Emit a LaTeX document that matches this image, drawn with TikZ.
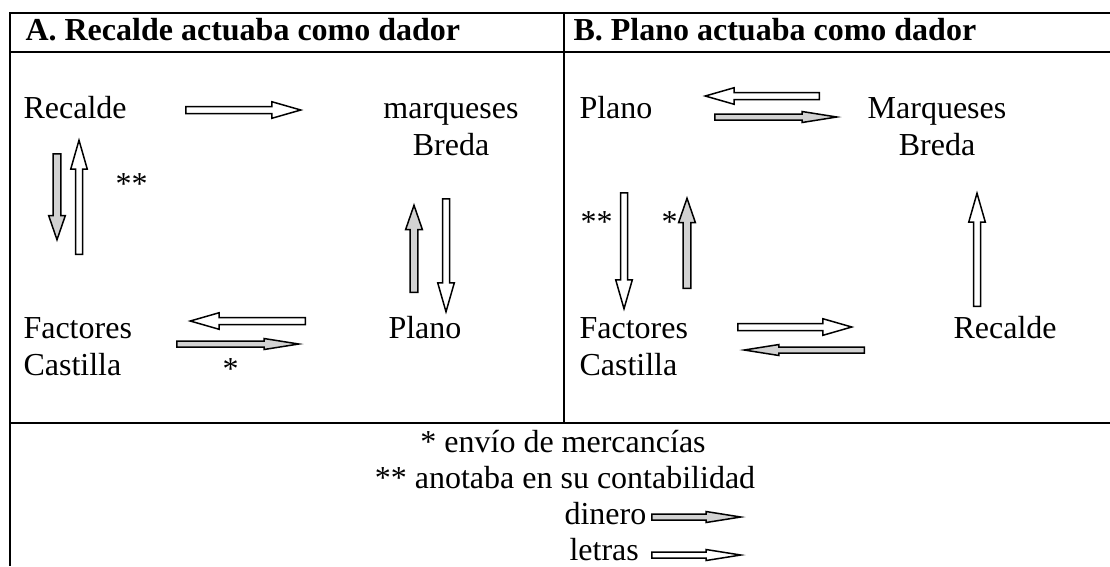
\documentclass[tikz,border=0pt]{standalone}
\usepackage{fontspec}
\setmainfont{Liberation Serif}
\usetikzlibrary{shapes.arrows}
\newlength{\px}\setlength{\px}{0.375pt}

\begin{document}
\begin{tikzpicture}[x=\px, y=-\px,
  every node/.style={font=\fontsize{12}{13.8}\selectfont, inner sep=0pt},
  txt/.style={anchor=base west},
  two/.style={anchor=base, align=center},
  tabla/.style={line width=2*\px},
  flecha/.style={single arrow, draw, anchor=tail, line width=1.5*\px, inner xsep=0pt, inner ysep=2.75*\px,
    single arrow head extend=4.75*\px, single arrow tip angle=32, minimum height=#1*\px},
  fina/.style={inner ysep=2.25*\px, single arrow head extend=2.5*\px, single arrow tip angle=18},
  corta/.style={inner ysep=3.1*\px, single arrow head extend=4.5*\px, single arrow tip angle=38},
  letra/.style={flecha=#1, fill=white},
  dinero/.style={flecha=#1, fill=gray!35}]
  \useasboundingbox (0,0) rectangle (1110,566);

  % cuadro
  \draw[tabla] (1110,13) -- (10,13) -- (10,566);
  \draw[tabla] (10,52) -- (1110,52);
  \draw[tabla] (564,13) -- (564,423);
  \draw[tabla] (10,423) -- (1110,423);

  % A
  \node[txt, font=\fontsize{12}{13.8}\selectfont\bfseries] (tA) at (25,40) {A. Recalde actuaba como dador};
  \node[txt] (recA) at (23,118) {Recalde};
  \node[two] (marqA) at (451,155) {marqueses\\Breda};
  \node[txt, align=left] (facA) at (23,375) {Factores\\Castilla};
  \node[txt] (plaA) at (388,338) {Plano};
  \node[txt] (astA) at (115,194) {**};
  \node[txt] (asA) at (222,379) {*};

  \node[letra=115] (rm) at (185,110) {};
  \node[dinero=86, corta, rotate=-90] (rf) at (57,153) {};
  \node[letra=114, rotate=90] (fr) at (79,255) {};
  \node[dinero=87, corta, rotate=90] (pm) at (414,293) {};
  \node[letra=113, rotate=-90] (mp) at (446,198) {};
  \node[letra=115, rotate=180] (pf) at (306,321) {};
  \node[dinero=122, fina] (fp) at (176,344) {};

  % B
  \node[txt, font=\fontsize{12}{13.8}\selectfont\bfseries] (tB) at (573,40) {B. Plano actuaba como dador};
  \node[txt] (plaB) at (579,118) {Plano};
  \node[two] (marqB) at (937,155) {Marqueses\\Breda};
  \node[txt, align=left] (facB) at (579,375) {Factores\\Castilla};
  \node[txt] (recB) at (953,338) {Recalde};
  \node[txt] (astB) at (580,232) {**};
  \node[txt] (asB) at (661,232) {*};

  \node[letra=114, rotate=180] (mpB) at (820,96) {};
  \node[dinero=122, fina] (pmB) at (714,117) {};
  \node[letra=116, rotate=-90] (pfB) at (624,192) {};
  \node[dinero=90, corta, rotate=90] (fpB) at (687,289) {};
  \node[letra=113, rotate=90] (rmB) at (977,307) {};
  \node[letra=114] (frB) at (737,327) {};
  \node[dinero=120, fina, rotate=180] (rfB) at (865,350) {};

  % leyenda
  \node[two] (n1) at (563,452) {* envío de mercancías};
  \node[two] (n2) at (565,488) {** anotaba en su contabilidad};
  \node[txt] (din) at (564,524) {dinero};
  \node[txt] (let) at (569,560) {letras};
  \node[dinero=89, fina] (fd) at (651,517) {};
  \node[letra=89, fina] (fl) at (651,555) {};
\end{tikzpicture}
\end{document}
